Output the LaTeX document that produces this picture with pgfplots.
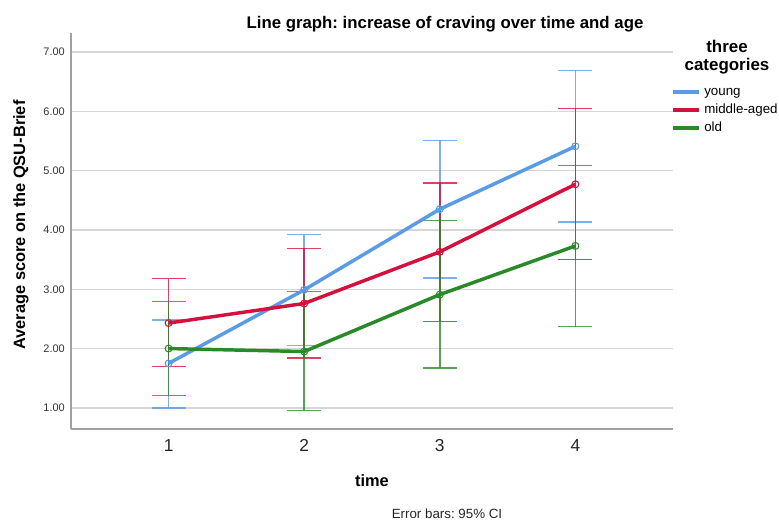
\documentclass[border=0pt]{standalone}
\usepackage{fontspec}
\setmainfont{Liberation Sans}
\usepackage{pgfplots}
\pgfplotsset{compat=1.18}
\usepackage{pgfplotstable}
\frenchspacing
\definecolor{cblue}{RGB}{90,155,230}
\definecolor{cred}{RGB}{212,16,60}
\definecolor{cgreen}{RGB}{42,138,42}
\definecolor{gridc}{RGB}{214,214,214}
\definecolor{axc}{RGB}{160,160,160}

% t = time, y = mean, ep/em = distance to upper/lower 95% CI limit
\pgfplotstableread{
t y ep em
1 1.75 0.73 0.75
2 2.99 0.93 0.94
3 4.35 1.16 1.16
4 5.41 1.28 1.28
}\young
\pgfplotstableread{
t y ep em
1 2.43 0.75 0.73
2 2.76 0.93 0.92
3 3.63 1.16 1.17
4 4.77 1.28 1.27
}\middleaged
\pgfplotstableread{
t y ep em
1 2.00 0.79 0.79
2 1.95 1.01 0.99
3 2.91 1.25 1.24
4 3.73 1.36 1.36
}\old

\pgfplotsset{
  cibars/.style={forget plot, #1, mark=none, draw opacity=0,
    error bars/.cd, y dir=both, y explicit,
    error bar style={#1, draw opacity=0.8, line width=1.1pt},
    error mark options={#1, draw opacity=0.8, rotate=90, mark size=12.75pt, line width=1.1pt}},
  meanline/.style={forget plot, #1, line width=2.6pt, mark=o, mark size=2.6pt,
    mark options={line width=0.8pt}},
}

\begin{document}
\begin{tikzpicture}
\path[use as bounding box] (0pt,0pt) rectangle (584.25pt,-390pt);
\begin{axis}[
  at={(53.25pt,-321.75pt)}, anchor=south west,
  scale only axis, width=451.5pt, height=297pt,
  xmin=0.28, xmax=4.72, ymin=0.644, ymax=7.32,
  xtick={1,2,3,4}, ytick={1,2,3,4,5,6,7},
  major tick length=0pt,
  axis x line=bottom, axis y line=left,
  axis line style={axc, line width=1.3pt, -},
  ymajorgrids, grid style={gridc, line width=1.1pt},
  x tick label style={font=\fontsize{13}{15}\selectfont, inner sep=0pt, yshift=-7.5pt, text=black!85,
    /pgf/number format/assume math mode=true},
  y tick label style={font=\fontsize{8.2}{10}\selectfont, inner sep=0pt, xshift=-4.5pt, text=black!80,
    /pgf/number format/.cd, fixed, fixed zerofill, precision=2, assume math mode=true, /tikz/.cd},
  legend style={at={(axis description cs:0.997,0.8745)}, anchor=north west, draw=none, fill=none,
    font=\fontsize{10}{12}\selectfont, inner sep=0pt, row sep=0pt,
    nodes={inner xsep=2.5pt, inner ysep=2pt, text height=7.5pt, text depth=2pt}},
  legend cell align=left,
  legend image code/.code={\draw[#1, line width=2.6pt] (0pt,0pt) -- (19.5pt,0pt);},
]
\addlegendimage{cblue}\addlegendentry{young}
\addlegendimage{cred}\addlegendentry{middle-aged}
\addlegendimage{cgreen}\addlegendentry{old}

% error bars (95% CI)
\addplot[cibars=cblue] table[x=t, y=y, y error plus=ep, y error minus=em] {\young};
\addplot[cibars=cred] table[x=t, y=y, y error plus=ep, y error minus=em] {\middleaged};
\addplot[cibars=cgreen] table[x=t, y=y, y error plus=ep, y error minus=em] {\old};

% mean lines
\addplot[meanline=cblue] table[x=t, y=y] {\young};
\addplot[meanline=cred] table[x=t, y=y] {\middleaged};
\addplot[meanline=cgreen] table[x=t, y=y] {\old};
\end{axis}
\begin{scope}[x=0.75pt, y=-0.75pt]
\node[anchor=base, font=\bfseries\fontsize{12.6}{15}\selectfont, inner sep=0pt] at (445,29) {Line graph: increase of craving over time and age};
\node[rotate=90, font=\bfseries\fontsize{12.3}{15}\selectfont, inner sep=0pt] at (21,225) {Average score on the QSU-Brief};
\node[anchor=base, font=\bfseries\fontsize{12.3}{15}\selectfont, inner sep=0pt] at (372,487) {time};
\node[anchor=base, font=\fontsize{10}{12}\selectfont, inner sep=0pt, text=black!85] at (447,518) {Error bars: 95\% CI};
\node[align=center, font=\bfseries\fontsize{12.7}{13.5}\selectfont, inner sep=0pt] at (727,57) {three\\categories};
\end{scope}
\end{tikzpicture}
\end{document}
